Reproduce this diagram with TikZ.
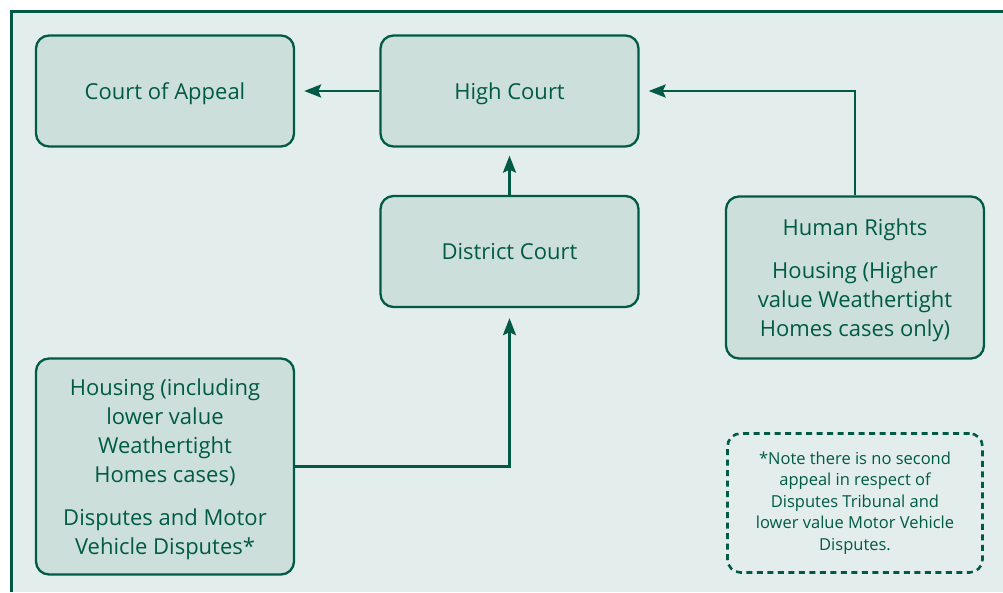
\documentclass[tikz,border=0pt]{standalone}
\usepackage{fontspec}
\setmainfont{Open Sans}
\usepackage{xcolor}
\usetikzlibrary{arrows.meta, positioning}

\definecolor{courtgreen}{HTML}{005A46}
\definecolor{courtfill}{HTML}{CDDFDB}
\definecolor{courtbg}{HTML}{E3EDEB}

\begin{document}
\begin{tikzpicture}[
    x=1pt, y=-1pt,
    court/.style={rectangle, rounded corners=13pt, draw=courtgreen, fill=courtfill, line width=2.3pt,
        minimum width=258pt, minimum height=111pt, align=center, text=courtgreen, text depth=0pt,
        font=\fontsize{22}{29}\selectfont},
    note/.style={rectangle, rounded corners=13pt, draw=courtgreen, line width=2.6pt,
        dash pattern=on 6pt off 4.5pt, minimum width=255pt, minimum height=139pt, align=center,
        text=courtgreen, font=\fontsize{16.5}{21.5}\selectfont},
    arrow/.style={-{Stealth[length=17pt, width=13pt, inset=3pt]}, line width=2.8pt, draw=courtgreen}
]
\useasboundingbox (0,0) rectangle (1003,592);
\fill[courtbg] (11,11) rectangle (1003,592);
\draw[courtgreen, line width=3pt] (11,592) -- (11,11) -- (1003,11);

\node[court] (appeal) at (165,91) {Court of Appeal};
\node[court] (high) at (509.5,91) {High Court};
\node[court] (district) at (509.5,251.5) {District Court};
\node[court, minimum height=162pt] (rights) at (855,277.5) {Human Rights\\[14pt] Housing (Higher\\ value Weathertight\\ Homes cases only)};
\node[court, minimum height=216pt] (housing) at (165,466.5) {Housing (including\\ lower value\\ Weathertight\\ Homes cases)\\[14pt] Disputes and Motor\\ Vehicle Disputes*};
\node[note] (remark) at (855,503) {*Note there is no second\\ appeal in respect of\\ Disputes Tribunal and\\ lower value Motor Vehicle\\ Disputes.};

\draw[arrow, shorten >=9pt] (high) -- (appeal);
\draw[arrow, shorten >=8pt] (district) -- (high);
\draw[arrow, shorten >=9pt] (rights.north) |- (high.east);
\draw[arrow, shorten >=10pt] (housing.east) -| (district.south);
\end{tikzpicture}
\end{document}
